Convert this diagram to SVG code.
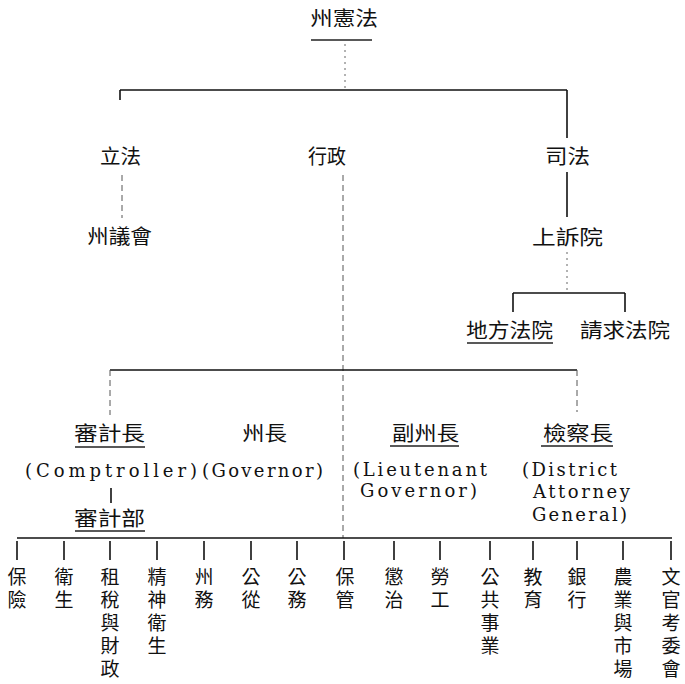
<svg xmlns="http://www.w3.org/2000/svg" width="685" height="684" viewBox="0 0 685 684">
<style>
text{font-family:"DejaVu Serif","Noto Sans CJK TC",serif;fill:#111;}
.zh{font-family:"Noto Sans CJK TC","Noto Sans CJK SC",sans-serif;font-size:20px;}
.en{font-size:18px;}
.col{font-family:"Noto Sans CJK TC","Noto Sans CJK SC",sans-serif;font-size:19px;writing-mode:vertical-rl;text-orientation:upright;letter-spacing:4px;}
.ln{stroke:#111;stroke-width:1.6;fill:none;}
.fa{stroke:#555;stroke-width:1;fill:none;stroke-dasharray:6 4;}
.dt{stroke:#666;stroke-width:1;fill:none;stroke-dasharray:2 4;}
.ul{stroke:#222;stroke-width:1.4;}
</style>
<rect width="685" height="684" fill="#fff"/>
<g id="connectors">
<line class="dt" x1="345" y1="44" x2="345" y2="88"/>
<line class="ln" x1="120" y1="90" x2="567" y2="90"/>
<line class="ln" x1="120" y1="90" x2="120" y2="100"/>
<line class="ln" x1="567" y1="90" x2="567" y2="138"/>
<line class="fa" x1="122" y1="175" x2="122" y2="218"/>
<line class="fa" x1="343" y1="175" x2="343" y2="538"/>
<line class="ln" x1="567" y1="172" x2="567" y2="217"/>
<line class="dt" x1="567" y1="252" x2="567" y2="290"/>
<line class="ln" x1="513" y1="293" x2="625" y2="293"/>
<line class="ln" x1="513" y1="293" x2="513" y2="312"/>
<line class="ln" x1="625" y1="293" x2="625" y2="312"/>
<line class="ln" x1="110" y1="370" x2="577" y2="370"/>
<line class="fa" x1="110" y1="370" x2="110" y2="415"/>
<line class="fa" x1="577" y1="370" x2="577" y2="412"/>
<line class="ln" x1="111" y1="488" x2="111" y2="503" stroke-width="2.4"/>
<line class="ln" x1="17" y1="538" x2="672" y2="538"/>
<g id="ticks">
<line class="ln" x1="17" y1="541" x2="17" y2="560"/>
<line class="ln" x1="64" y1="541" x2="64" y2="560"/>
<line class="ln" x1="110" y1="541" x2="110" y2="560"/>
<line class="ln" x1="157" y1="541" x2="157" y2="560"/>
<line class="ln" x1="204" y1="541" x2="204" y2="560"/>
<line class="ln" x1="251" y1="541" x2="251" y2="560"/>
<line class="ln" x1="297" y1="541" x2="297" y2="560"/>
<line class="ln" x1="344" y1="541" x2="344" y2="560"/>
<line class="ln" x1="394" y1="541" x2="394" y2="560"/>
<line class="ln" x1="440" y1="541" x2="440" y2="560"/>
<line class="ln" x1="490" y1="541" x2="490" y2="560"/>
<line class="ln" x1="533" y1="541" x2="533" y2="560"/>
<line class="ln" x1="577" y1="541" x2="577" y2="560"/>
<line class="ln" x1="623" y1="541" x2="623" y2="560"/>
<line class="ln" x1="671" y1="541" x2="671" y2="560"/>
</g>
</g>
<g id="constitution">
<text class="zh" x="310" y="26" font-size="21" textLength="68" lengthAdjust="spacingAndGlyphs">州憲法</text>
<line class="ul" x1="311" y1="40" x2="372" y2="40"/>
</g>
<g id="legislative"><text class="zh" x="100" y="164" textLength="41" lengthAdjust="spacingAndGlyphs">立法</text></g>
<g id="executive"><text class="zh" x="308" y="164" textLength="38" lengthAdjust="spacingAndGlyphs">行政</text></g>
<g id="judicial"><text class="zh" x="545" y="164" textLength="45" lengthAdjust="spacingAndGlyphs">司法</text></g>
<g id="legislature"><text class="zh" x="87" y="244" textLength="65" lengthAdjust="spacingAndGlyphs">州議會</text></g>
<g id="appeals"><text class="zh" x="532" y="245" textLength="71" lengthAdjust="spacingAndGlyphs">上訴院</text></g>
<g id="local-court">
<text class="zh" x="466" y="338" textLength="87" lengthAdjust="spacingAndGlyphs">地方法院</text>
<line class="ul" x1="467" y1="343" x2="553" y2="343"/>
</g>
<g id="claims-court"><text class="zh" x="580" y="338" textLength="90" lengthAdjust="spacingAndGlyphs">請求法院</text></g>
<g id="comptroller">
<text class="zh" x="74" y="441" textLength="71" lengthAdjust="spacingAndGlyphs">審計長</text>
<line class="ul" x1="75" y1="447" x2="145" y2="447"/>
<text class="en" x="25" y="477" textLength="172" lengthAdjust="spacing">(Comptroller)</text>
</g>
<g id="governor">
<text class="zh" x="242" y="441" textLength="45" lengthAdjust="spacingAndGlyphs">州長</text>
<text class="en" x="202" y="477" textLength="121" lengthAdjust="spacing">(Governor)</text>
</g>
<g id="lt-governor">
<text class="zh" x="392" y="441" textLength="67" lengthAdjust="spacingAndGlyphs">副州長</text>
<line class="ul" x1="390" y1="446" x2="459" y2="446"/>
<text class="en" x="353" y="476" textLength="134" lengthAdjust="spacing">(Lieutenant</text>
<text class="en" x="360" y="497" textLength="117" lengthAdjust="spacing">Governor)</text>
</g>
<g id="attorney-general">
<text class="zh" x="543" y="441" textLength="70" lengthAdjust="spacingAndGlyphs">檢察長</text>
<line class="ul" x1="541" y1="446" x2="613" y2="446"/>
<text class="en" x="522" y="476" textLength="95" lengthAdjust="spacing">(District</text>
<text class="en" x="533" y="498" textLength="97" lengthAdjust="spacing">Attorney</text>
<text class="en" x="532" y="521" textLength="95" lengthAdjust="spacing">General)</text>
</g>
<g id="audit-dept">
<text class="zh" x="74" y="526" textLength="71" lengthAdjust="spacingAndGlyphs">審計部</text>
<line class="ul" x1="75" y1="531" x2="145" y2="531"/>
</g>
<g id="departments">
<g id="d-insurance"><text class="col" x="17" y="567">保險</text></g>
<g id="d-health"><text class="col" x="64" y="567">衛生</text></g>
<g id="d-tax"><text class="col" x="110" y="567">租稅與財政</text></g>
<g id="d-mental"><text class="col" x="157" y="567">精神衛生</text></g>
<g id="d-state"><text class="col" x="204" y="567">州務</text></g>
<g id="d-6"><text class="col" x="251" y="567">公從</text></g>
<g id="d-works"><text class="col" x="297" y="567">公務</text></g>
<g id="d-conservation"><text class="col" x="345" y="567">保管</text></g>
<g id="d-correction"><text class="col" x="394" y="567">懲治</text></g>
<g id="d-labor"><text class="col" x="440" y="567">勞工</text></g>
<g id="d-public-service"><text class="col" x="490" y="567">公共事業</text></g>
<g id="d-education"><text class="col" x="533" y="567">教育</text></g>
<g id="d-banking"><text class="col" x="577" y="567">銀行</text></g>
<g id="d-agriculture"><text class="col" x="623" y="567">農業與市場</text></g>
<g id="d-civil-service"><text class="col" x="671" y="567">文官考委會</text></g>
</g>
</svg>
